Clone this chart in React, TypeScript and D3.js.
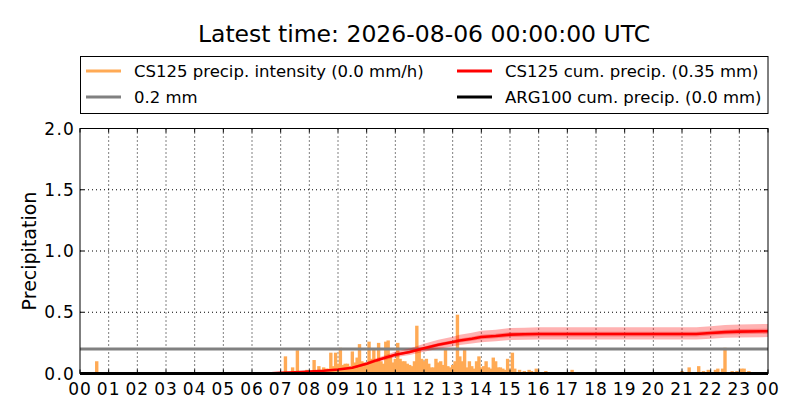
import React from "react";
import * as d3 from "d3";

// precipitation intensity bars: minutes after 00:00 (5-min bins) and mm/h
const barMinutes = [
  35, 430, 445, 455, 475, 490, 500, 505, 510, 515, 520, 525, 530, 535, 540, 545,
  550, 555, 560, 565, 570, 575, 580, 585, 590, 595, 600, 605, 610, 615, 620, 625,
  630, 635, 640, 645, 650, 655, 660, 665, 670, 675, 680, 685, 690, 695, 700, 705,
  710, 715, 720, 725, 730, 735, 740, 745, 750, 755, 760, 765, 770, 775, 780, 785,
  790, 795, 800, 805, 810, 815, 820, 825, 830, 835, 840, 845, 850, 855, 860, 865,
  870, 875, 880, 885, 890, 895, 900, 905, 910, 920, 930, 940, 945, 955, 975, 1030,
  1260, 1275, 1295, 1305, 1315, 1330, 1335, 1345, 1350, 1365, 1375, 1385, 1390, 1400,
];
const barValues = [
  0.1, 0.14, 0.05, 0.19, 0.03, 0.11, 0.06, 0.03, 0.05, 0.04, 0.04, 0.17, 0.06, 0.17, 0.08, 0.21,
  0.07, 0.08, 0.08, 0.06, 0.18, 0.09, 0.13, 0.24, 0.1, 0.09, 0.08, 0.26, 0.12, 0.2, 0.1, 0.25,
  0.1, 0.08, 0.26, 0.27, 0.15, 0.09, 0.12, 0.25, 0.12, 0.1, 0.1, 0.08, 0.07, 0.06, 0.1, 0.39,
  0.21, 0.12, 0.1, 0.12, 0.08, 0.05, 0.05, 0.12, 0.09, 0.1, 0.07, 0.2, 0.06, 0.05, 0.07, 0.1,
  0.48, 0.14, 0.1, 0.2, 0.05, 0.1, 0.06, 0.04, 0.1, 0.14, 0.05, 0.06, 0.1, 0.05, 0.04, 0.13,
  0.1, 0.05, 0.05, 0.04, 0.03, 0.12, 0.03, 0.17, 0.04, 0.03, 0.02, 0.03, 0.02, 0.04, 0.02, 0.03,
  0.02, 0.05, 0.06, 0.02, 0.03, 0.03, 0.04, 0.04, 0.21, 0.02, 0.02, 0.04, 0.04, 0.02,
];

// cumulative precipitation (hours, mm) and its uncertainty bands
const cumHours = [0, 6.5, 7, 7.5, 8, 8.5, 9, 9.5, 10, 10.33, 10.67, 11, 11.5, 12, 12.5, 13, 13.25, 13.67, 14, 14.5, 15, 15.5, 16, 17, 21.5, 22, 22.5, 23, 24];
const cumValues = [0, 0, 0.005, 0.01, 0.016, 0.022, 0.033, 0.047, 0.08, 0.107, 0.13, 0.153, 0.175, 0.207, 0.235, 0.257, 0.27, 0.284, 0.298, 0.306, 0.317, 0.32, 0.322, 0.322, 0.322, 0.33, 0.338, 0.342, 0.345];
const outerLow = [0, 0, 0.004, 0.009, 0.014, 0.019, 0.028, 0.04, 0.069, 0.092, 0.112, 0.132, 0.151, 0.178, 0.202, 0.221, 0.232, 0.244, 0.256, 0.263, 0.273, 0.275, 0.277, 0.277, 0.277, 0.284, 0.291, 0.294, 0.297];
const outerHigh = [0, 0, 0.006, 0.012, 0.019, 0.026, 0.039, 0.055, 0.094, 0.125, 0.152, 0.179, 0.205, 0.242, 0.275, 0.301, 0.316, 0.332, 0.349, 0.358, 0.371, 0.374, 0.377, 0.377, 0.377, 0.386, 0.395, 0.4, 0.404];
const innerLow = [0, 0, 0.005, 0.009, 0.015, 0.021, 0.031, 0.044, 0.075, 0.101, 0.122, 0.144, 0.165, 0.195, 0.221, 0.242, 0.254, 0.267, 0.28, 0.288, 0.298, 0.301, 0.303, 0.303, 0.303, 0.31, 0.318, 0.321, 0.324];
const innerHigh = [0, 0, 0.005, 0.011, 0.017, 0.023, 0.035, 0.05, 0.085, 0.113, 0.138, 0.162, 0.186, 0.219, 0.249, 0.272, 0.286, 0.301, 0.316, 0.324, 0.336, 0.339, 0.341, 0.341, 0.341, 0.35, 0.358, 0.363, 0.366];

const thresholdValue = 0.2;
const argValue = 0;

const xTickLabels = ["00", "01", "02", "03", "04", "05", "06", "07", "08", "09", "10", "11", "12", "13", "14", "15", "16", "17", "18", "19", "20", "21", "22", "23", "00"];
const yTicks = [0, 0.5, 1.0, 1.5, 2.0];

const legendItems = [
  { label: "CS125 precip. intensity (0.0 mm/h)", color: "#ffaa55" },
  { label: "0.2 mm", color: "#808080" },
  { label: "CS125 cum. precip. (0.35 mm)", color: "#ff0000" },
  { label: "ARG100 cum. precip. (0.0 mm)", color: "#000000" },
];

const FONT = "'DejaVu Sans', sans-serif";

export default function App() {
  const width = 800;
  const height = 420;
  const m = { left: 80, right: 768, top: 128.5, bottom: 373.5 };

  const x = d3.scaleLinear().domain([0, 24]).range([m.left, m.right]);
  const y = d3.scaleLinear().domain([0, 2]).range([m.bottom, m.top]);

  const idx = d3.range(cumHours.length);
  const bandArea = (lo: number[], hi: number[]) =>
    d3.area<number>()
      .x((i) => x(cumHours[i]))
      .y0((i) => y(lo[i]))
      .y1((i) => y(hi[i]))(idx) || "";
  const cumLine = d3.line<number>()
    .x((i) => x(cumHours[i]))
    .y((i) => y(cumValues[i]))(idx) || "";

  const barW = x(5 / 60) - x(0);

  return (
    <svg
      width={width}
      height={height}
      style={{ position: "absolute", left: 0, top: 0, background: "#fff" }}
      fontFamily={FONT}
    >
      <rect width={width} height={height} fill="#fff" />
      {/* title */}
      <text x={(m.left + m.right) / 2} y={42} textAnchor="middle" fontSize={23.5}>
        Latest time: 2026-08-06 00:00:00 UTC
      </text>

      {/* legend */}
      <rect x={80.5} y={56.5} width={687.5} height={57} fill="#fff" stroke="#000" strokeWidth={1} />
      {legendItems.map((it, i) => {
        const col = i < 2 ? 0 : 1;
        const row = i % 2;
        const lx = col === 0 ? 86 : 457;
        const ly = 71 + row * 26;
        return (
          <g key={it.label}>
            <line x1={lx} x2={lx + 35} y1={ly} y2={ly} stroke={it.color} strokeWidth={3} />
            <text x={lx + 48} y={ly + 6} fontSize={16.5}>{it.label}</text>
          </g>
        );
      })}

      {/* grid */}
      {d3.range(1, 24).map((h) => (
        <line key={"gx" + h} x1={x(h)} x2={x(h)} y1={m.top} y2={m.bottom} stroke="#000" strokeWidth={1} strokeDasharray="1,3" />
      ))}
      {yTicks.slice(1, -1).map((v) => (
        <line key={"gy" + v} x1={m.left} x2={m.right} y1={y(v)} y2={y(v)} stroke="#000" strokeWidth={1} strokeDasharray="1,3" />
      ))}

      {/* intensity bars */}
      {barMinutes.map((mn, i) => (
        <rect
          key={"b" + i}
          x={x((mn - 2.5) / 60) - 0.5}
          y={y(barValues[i])}
          width={barW + 1}
          height={y(0) - y(barValues[i])}
          fill="#ffaa55"
        />
      ))}

      {/* threshold */}
      <line x1={m.left} x2={m.right} y1={y(thresholdValue)} y2={y(thresholdValue)} stroke="#808080" strokeWidth={3} />

      {/* cumulative bands and line */}
      <path d={bandArea(outerLow, outerHigh)} fill="#ff0000" fillOpacity={0.3} />
      <path d={bandArea(innerLow, innerHigh)} fill="#ff0000" fillOpacity={0.3} />
      <path d={cumLine} fill="none" stroke="#ff0000" strokeWidth={2.6} />

      {/* ARG100 */}
      <line x1={m.left} x2={m.right} y1={y(argValue)} y2={y(argValue)} stroke="#000" strokeWidth={3} />

      {/* frame */}
      <rect x={m.left} y={m.top} width={m.right - m.left} height={m.bottom - m.top} fill="none" stroke="#000" strokeWidth={1} />

      {/* ticks */}
      {d3.range(0, 25).map((h) => (
        <g key={"tx" + h}>
          <line x1={x(h)} x2={x(h)} y1={m.bottom} y2={m.bottom - 4} stroke="#000" />
          <line x1={x(h)} x2={x(h)} y1={m.top} y2={m.top + 4} stroke="#000" />
          <text x={x(h)} y={394.5} textAnchor="middle" fontSize={17} letterSpacing={1}>{xTickLabels[h]}</text>
        </g>
      ))}
      {yTicks.map((v) => (
        <g key={"ty" + v}>
          <line x1={m.left} x2={m.left + 4} y1={y(v)} y2={y(v)} stroke="#000" />
          <line x1={m.right} x2={m.right - 4} y1={y(v)} y2={y(v)} stroke="#000" />
          <text x={75} y={y(v) + 6} textAnchor="end" fontSize={17} letterSpacing={1.2}>{v.toFixed(1)}</text>
        </g>
      ))}

      {/* y label */}
      <text
        transform={`translate(36,${(m.top + m.bottom) / 2}) rotate(-90)`}
        textAnchor="middle"
        fontSize={19}
      >
        Precipitation
      </text>
    </svg>
  );
}
